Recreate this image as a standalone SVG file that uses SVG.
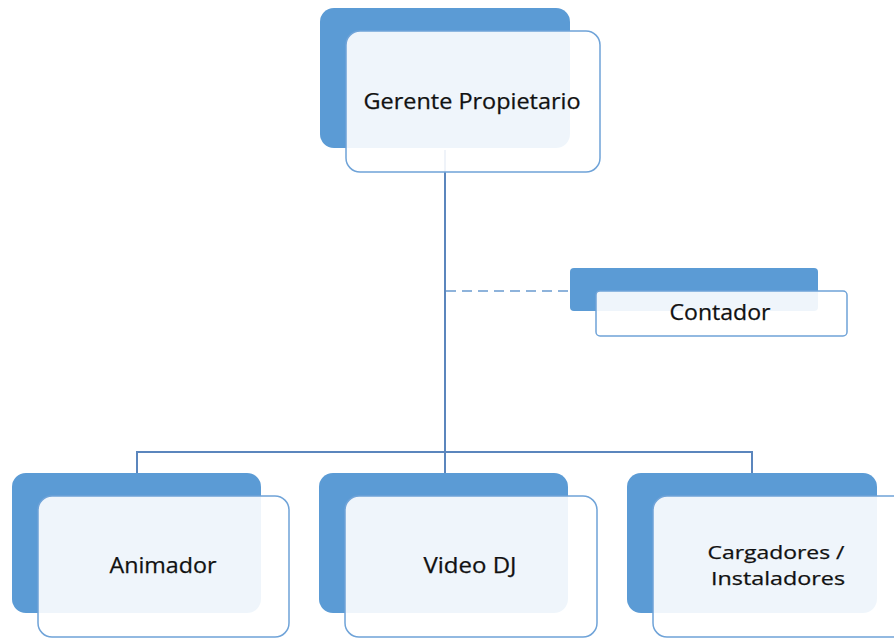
<svg xmlns="http://www.w3.org/2000/svg" width="894" height="639" viewBox="0 0 894 639">
<style>
.back{fill:#5B9BD5}
.front{fill:#FFFFFF;fill-opacity:0.9;stroke:#6FA3D8;stroke-width:1.5}
.lbl{font-family:"Open Sans","Liberation Sans",sans-serif;font-size:21.5px;fill:#111111;stroke:#111111;stroke-width:0.25;text-anchor:middle}
.sm{font-size:19px}
.conn{fill:none;stroke:#5B86BD;stroke-width:2}
.dash{fill:none;stroke:#6A9AD0;stroke-width:1.5;stroke-dasharray:10 6}
</style>
<rect width="894" height="639" fill="#FFFFFF"/>
<g id="connectors">
<path class="conn" d="M445 150 V452"/>
<path class="conn" d="M137 473 V452 H752 V473"/>
<path class="conn" d="M445 452 V473"/>
<path class="dash" d="M446 291 H570"/>
</g>
<g id="gerente">
<rect class="back" x="320" y="8" width="250" height="140" rx="14"/>
<rect class="front" x="346" y="31" width="254" height="141" rx="14"/>
<text class="lbl" x="472" y="109" textLength="217" lengthAdjust="spacingAndGlyphs">Gerente Propietario</text>
</g>
<g id="contador">
<rect class="back" x="570" y="268" width="248" height="43" rx="4"/>
<rect class="front" x="596" y="291" width="251" height="45" rx="4"/>
<text class="lbl" x="720" y="320" textLength="101" lengthAdjust="spacingAndGlyphs">Contador</text>
</g>
<g id="animador">
<rect class="back" x="12" y="473" width="249" height="140" rx="14"/>
<rect class="front" x="38" y="496" width="251" height="141" rx="14"/>
<text class="lbl" x="163" y="573" textLength="107" lengthAdjust="spacingAndGlyphs">Animador</text>
</g>
<g id="videodj">
<rect class="back" x="319" y="473" width="249" height="140" rx="14"/>
<rect class="front" x="345" y="496" width="252" height="141" rx="14"/>
<text class="lbl" x="470" y="573" textLength="93" lengthAdjust="spacingAndGlyphs">Video DJ</text>
</g>
<g id="cargadores">
<rect class="back" x="627" y="473" width="250" height="140" rx="14"/>
<rect class="front" x="653" y="496" width="254" height="141" rx="14"/>
<text class="lbl sm" x="776" y="559" textLength="137" lengthAdjust="spacingAndGlyphs">Cargadores /</text>
<text class="lbl sm" x="778" y="585" textLength="134" lengthAdjust="spacingAndGlyphs">Instaladores</text>
</g>
</svg>
